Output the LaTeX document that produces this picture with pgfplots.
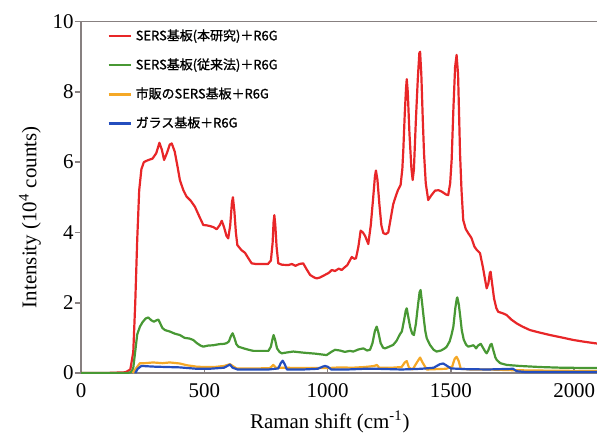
\documentclass[border=0pt]{standalone}
\usepackage{fontspec}
\setmainfont{Liberation Serif}
\newfontfamily\jp[FakeBold=1.2]{Noto Sans CJK JP}
\usepackage{pgfplots}
\pgfplotsset{compat=1.18}
\definecolor{cred}{RGB}{232,38,40}
\definecolor{cgreen}{RGB}{72,152,52}
\definecolor{corange}{RGB}{245,168,38}
\definecolor{cblue}{RGB}{36,78,190}
\definecolor{axgray}{RGB}{135,128,128}
\begin{document}
\begin{tikzpicture}
\begin{axis}[
 at={(0,0)}, anchor=south west,
 scale only axis, width=261.4bp, height=175.75bp,
 xmin=0, xmax=2120, ymin=0, ymax=10,
 axis line style={color=axgray, line width=0.9bp},
 xtick={0,500,1000,1500,2000}, ytick={0,2,4,6,8,10},
 xtick pos=bottom, ytick pos=left,
 tick align=outside, major tick length=3bp,
 tick style={color=axgray, line width=0.8bp},
 x tick style={yshift=3bp},
 /pgf/number format/assume math mode=true,
 /pgf/number format/1000 sep={},
 ticklabel style={font=\fontsize{10.5}{12}\selectfont},
 yticklabel style={inner xsep=0.5bp},
 xticklabel style={inner ysep=1bp, yshift=-1bp},
 xlabel={Raman shift (cm\textsuperscript{-1})},
 ylabel={Intensity (10\textsuperscript{4} counts)},
 label style={font=\fontsize{10.5}{12}\selectfont},
 xlabel style={at={(axis description cs:0.476,0)}, anchor=center, yshift=-24.5bp},
 ylabel style={at={(axis description cs:-0.0976,0.443)}, anchor=center},
 legend style={at={(axis description cs:0.05,0.99)}, anchor=north west, draw=none, fill=none,
   font=\jp\fontsize{6.5}{8}\selectfont, row sep=3.6bp, inner sep=0pt},
 legend cell align=left,
 legend image code/.code={\draw[#1] (0bp,0bp) -- (11bp,0bp);},
 every axis plot/.append style={line width=1.1bp, line join=round},
]
\addplot[cred] coordinates {
(0,0) (100,0) (180,0.02) (200,0.1) (212,0.6) (220,2.0) (228,3.8) (236,5.2) (245,5.8) (255,6.0)
(270,6.05) (290,6.1) (305,6.25) (318,6.55) (328,6.35) (337,6.06) (348,6.25) (360,6.5) (368,6.53)
(380,6.3) (392,5.85) (401,5.49) (415,5.2) (428,5.02) (445,4.9) (462,4.73) (480,4.45) (496,4.21)
(510,4.2) (523,4.18) (537,4.15) (550,4.09) (562,4.2) (571,4.33) (580,4.15) (590,3.9) (597,3.83)
(605,4.2) (612,4.85) (616,5.0) (622,4.6) (628,4.0) (634,3.64) (650,3.5) (665,3.42) (680,3.25)
(692,3.12) (710,3.1) (726,3.1) (758,3.1) (770,3.2) (777,3.7) (781,4.3) (784,4.49) (788,4.2)
(793,3.6) (800,3.12) (815,3.08) (840,3.07) (855,3.1) (870,3.05) (885,3.1) (901,3.12) (915,2.95)
(929,2.79) (945,2.72) (956,2.69) (970,2.72) (989,2.79) (1005,2.85) (1017,2.93) (1030,2.9)
(1045,2.97) (1057,2.93) (1068,3.0) (1080,3.07) (1090,3.2) (1098,3.3) (1108,3.25) (1115,3.26)
(1125,3.6) (1134,4.05) (1143,4.0) (1152,3.9) (1165,3.67) (1175,4.2) (1185,5.0) (1192,5.6)
(1196,5.76) (1202,5.5) (1210,4.8) (1218,4.2) (1226,3.98) (1236,3.95) (1246,4.0) (1256,4.4)
(1266,4.8) (1275,5.0) (1285,5.2) (1296,5.35) (1303,5.8) (1307,6.34) (1313,7.4) (1318,8.1)
(1321,8.36) (1325,8.0) (1332,6.8) (1340,5.8) (1345,5.49) (1350,5.8) (1358,7.2) (1366,8.4)
(1372,9.1) (1375,9.14) (1380,8.5) (1386,7.2) (1391,6.25) (1398,5.4) (1408,4.92) (1420,5.05)
(1436,5.19) (1450,5.2) (1463,5.16) (1480,5.08) (1489,5.06) (1497,5.4) (1503,6.06) (1510,7.5)
(1517,8.7) (1523,9.05) (1529,8.5) (1533,7.4) (1537,6.25) (1543,5.2) (1550,4.35) (1560,4.1)
(1571,3.97) (1578,3.9) (1584,3.83) (1595,3.6) (1605,3.5) (1618,3.41) (1630,3.0) (1640,2.6)
(1645,2.41) (1652,2.55) (1658,2.85) (1661,2.88) (1666,2.6) (1675,2.12) (1684,1.85) (1692,1.74)
(1710,1.7) (1726,1.65) (1745,1.52) (1767,1.41) (1790,1.32) (1821,1.22) (1860,1.15) (1902,1.08)
(1950,1.01) (1996,0.94) (2040,0.89) (2091,0.84) (2120,0.82)
};
\addlegendentry{SERS基板(本研究)＋R6G}
\addplot[cgreen] coordinates {
(0,0) (190,0) (205,0.03) (212,0.15) (219,0.56) (228,1.1) (239,1.32) (250,1.45) (262,1.55)
(273,1.58) (285,1.5) (296,1.46) (306,1.5) (314,1.52) (322,1.4) (330,1.28) (341,1.22) (360,1.18)
(380,1.12) (401,1.08) (420,1.0) (440,0.98) (455,0.94) (470,0.85) (485,0.78) (496,0.75) (515,0.78)
(537,0.79) (560,0.82) (580,0.83) (591,0.85) (600,0.9) (608,1.05) (615,1.13) (622,1.0) (630,0.82)
(638,0.75) (660,0.7) (680,0.66) (699,0.63) (730,0.63) (760,0.63) (770,0.75) (777,0.98) (781,1.08)
(787,0.95) (795,0.7) (805,0.6) (814,0.56) (840,0.59) (861,0.61) (900,0.58) (950,0.55) (996,0.51)
(1015,0.6) (1030,0.66) (1050,0.64) (1070,0.6) (1090,0.63) (1104,0.61) (1125,0.67) (1145,0.7)
(1160,0.64) (1172,0.66) (1182,0.85) (1192,1.2) (1199,1.32) (1206,1.15) (1215,0.85) (1225,0.72)
(1233,0.7) (1250,0.75) (1266,0.8) (1280,0.92) (1293,1.1) (1301,1.18) (1310,1.5) (1317,1.78)
(1321,1.84) (1327,1.6) (1335,1.3) (1343,1.12) (1350,1.08) (1358,1.4) (1366,1.9) (1373,2.3)
(1377,2.36) (1383,2.0) (1390,1.55) (1396,1.2) (1402,0.99) (1415,0.8) (1430,0.66) (1442,0.61)
(1460,0.64) (1475,0.7) (1483,0.75) (1495,0.9) (1503,1.1) (1510,1.32) (1518,1.85) (1524,2.12)
(1526,2.15) (1532,1.95) (1538,1.6) (1544,1.22) (1552,0.95) (1562,0.8) (1571,0.75) (1582,0.77)
(1591,0.79) (1597,0.75) (1602,0.7) (1610,0.78) (1621,0.83) (1630,0.72) (1640,0.6) (1645,0.56)
(1652,0.65) (1660,0.8) (1665,0.83) (1672,0.65) (1680,0.45) (1686,0.37) (1700,0.28) (1726,0.23)
(1780,0.2) (1861,0.17) (1950,0.15) (2091,0.14) (2120,0.14)
};
\addlegendentry{SERS基板(従来法)＋R6G}
\addplot[corange] coordinates {
(210,0) (225,0.15) (239,0.28) (260,0.28) (292,0.3) (330,0.28) (360,0.3) (401,0.27) (430,0.22)
(469,0.18) (500,0.17) (540,0.17) (580,0.2) (604,0.25) (615,0.2) (631,0.13) (680,0.13) (720,0.13)
(766,0.14) (780,0.23) (790,0.15) (820,0.15) (900,0.14) (960,0.14) (1000,0.14) (1050,0.16)
(1100,0.15) (1150,0.17) (1190,0.2) (1199,0.23) (1210,0.15) (1260,0.15) (1300,0.17) (1313,0.3)
(1321,0.34) (1330,0.15) (1345,0.1) (1362,0.3) (1375,0.44) (1385,0.3) (1402,0.1) (1440,0.11)
(1480,0.12) (1505,0.18) (1515,0.4) (1523,0.46) (1531,0.35) (1540,0.12) (1580,0.1) (1650,0.1)
(1700,0.09) (1750,0.08) (1850,0.07) (2000,0.06) (2120,0.06)
};
\addlegendentry{市販のSERS基板＋R6G}
\addplot[cblue] coordinates {
(220,0) (230,0.12) (245,0.2) (300,0.18) (400,0.16) (470,0.12) (520,0.12) (580,0.15) (604,0.24)
(615,0.15) (635,0.1) (700,0.1) (760,0.1) (800,0.13) (810,0.28) (818,0.35) (826,0.25) (835,0.1)
(900,0.1) (960,0.12) (980,0.18) (989,0.2) (1000,0.18) (1015,0.1) (1080,0.1) (1150,0.12)
(1200,0.12) (1300,0.1) (1380,0.12) (1430,0.15) (1455,0.25) (1469,0.27) (1485,0.2) (1500,0.13)
(1560,0.11) (1650,0.1) (1700,0.11) (1752,0.12) (1767,0.05) (1800,0.03) (2120,0.03)
};
\addlegendentry{ガラス基板＋R6G}
\end{axis}
\pgfresetboundingbox
\useasboundingbox (-40.5bp,-33bp) rectangle (258bp,186.5bp);
\end{tikzpicture}
\end{document}
